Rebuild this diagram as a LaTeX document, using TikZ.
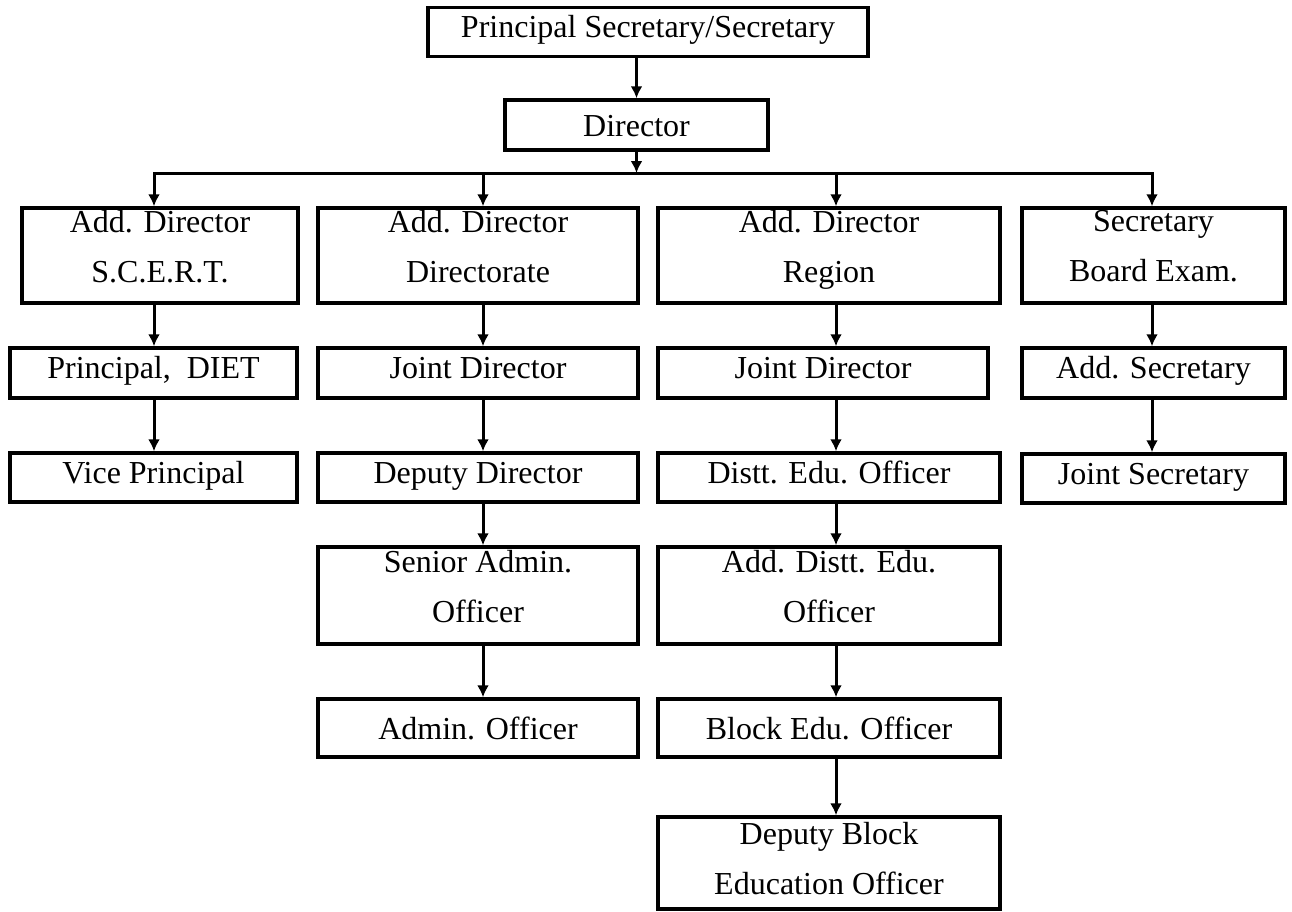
\documentclass[tikz,border=0pt]{standalone}
\usepackage{fontspec}
\setmainfont{Liberation Serif}
\usetikzlibrary{arrows.meta}
\newcommand{\lstrut}{\rule[-19pt]{0pt}{49pt}}
\newcommand{\cstrut}{\rule[-9pt]{0pt}{40pt}}
\begin{document}
\begin{tikzpicture}[x=1pt,y=-1pt,
        frame/.style={draw,line width=3.5pt,inner sep=0pt,align=center,
            font=\fontsize{32}{50}\selectfont},
        box/.style={frame,execute at begin node={\lstrut},execute at end node={\lstrut}},
        midbox/.style={frame,execute at begin node={\cstrut},execute at end node={\cstrut}},
        tip/.style={line width=3pt},
        arr/.style={tip,-{Latex[length=12pt,width=12pt]}}]
    \useasboundingbox (0,0) rectangle (1292,911);
    % top of the chart
    \node [box,minimum width=440pt,minimum height=48pt] (psec) at (648,32) {Principal Secretary/Secretary};
    \node [midbox,minimum width=263pt,minimum height=50pt] (dir) at (636.5,125) {Director};
    \coordinate (bus) at (636.5,173);
    \coordinate (b1) at (154,173);
    \coordinate (b2) at (483,173);
    \coordinate (b3) at (836,173);
    \coordinate (b4) at (1152,173);
    % S.C.E.R.T.
    \node [box,minimum width=276pt,minimum height=95pt] (scert) at (160,255.5) {Add. Director\\S.C.E.R.T.};
    \node [box,minimum width=287pt,minimum height=50pt] (diet) at (153.5,373) {Principal,\ \ DIET};
    \node [box,minimum width=287pt,minimum height=49pt] (vprin) at (153.5,477.5) {Vice Principal};
    % Directorate
    \node [box,minimum width=320pt,minimum height=95pt] (dte) at (478,255.5) {Add. Director\\Directorate};
    \node [box,minimum width=320pt,minimum height=50pt] (jdir) at (478,373) {Joint Director};
    \node [box,minimum width=320pt,minimum height=49pt] (ddir) at (478,477.5) {Deputy Director};
    \node [box,minimum width=320pt,minimum height=97pt] (sao) at (478,595.5) {Senior Admin.\\Officer};
    \node [midbox,minimum width=320pt,minimum height=58pt] (ao) at (478,728) {Admin. Officer};
    % Region
    \node [box,minimum width=342pt,minimum height=95pt] (reg) at (829,255.5) {Add. Director\\Region};
    \node [box,minimum width=330pt,minimum height=50pt] (jdreg) at (823,373) {Joint Director};
    \node [box,minimum width=342pt,minimum height=49pt] (deo) at (829,477.5) {Distt. Edu. Officer};
    \node [box,minimum width=342pt,minimum height=97pt] (adeo) at (829,595.5) {Add. Distt. Edu.\\Officer};
    \node [midbox,minimum width=342pt,minimum height=58pt] (beo) at (829,728) {Block Edu. Officer};
    \node [midbox,minimum width=342pt,minimum height=92pt] (dbeo) at (829,863) {Deputy Block\\Education Officer};
    % Board Exam.
    \node [box,minimum width=263pt,minimum height=95pt] (board) at (1153.5,255.5) {Secretary\\Board Exam.};
    \node [box,minimum width=263pt,minimum height=50pt] (asec) at (1153.5,373) {Add. Secretary};
    \node [box,minimum width=263pt,minimum height=49pt] (jsec) at (1153.5,478.5) {Joint Secretary};
    % connectors
    \draw [arr] (dir.north |- psec.south) -- (dir.north);
    \draw [arr] (dir.south) -- (bus);
    \draw [tip,{Latex[length=12pt,width=12pt]}-{Latex[length=12pt,width=12pt]}]
        (scert.north -| b1) -- (b1) -- (b4) -- (board.north -| b4);
    \draw [arr] (b2) -- (dte.north -| b2);
    \draw [arr] (b3) -- (reg.north -| b3);
    \draw [arr] (scert.south -| b1) -- (diet.north -| b1);
    \draw [arr] (diet.south -| b1) -- (vprin.north -| b1);
    \draw [arr] (dte.south -| b2) -- (jdir.north -| b2);
    \draw [arr] (jdir.south -| b2) -- (ddir.north -| b2);
    \draw [arr] (ddir.south -| b2) -- (sao.north -| b2);
    \draw [arr] (sao.south -| b2) -- (ao.north -| b2);
    \draw [arr] (reg.south -| b3) -- (jdreg.north -| b3);
    \draw [arr] (jdreg.south -| b3) -- (deo.north -| b3);
    \draw [arr] (deo.south -| b3) -- (adeo.north -| b3);
    \draw [arr] (adeo.south -| b3) -- (beo.north -| b3);
    \draw [arr] (beo.south -| b3) -- (dbeo.north -| b3);
    \draw [arr] (board.south -| b4) -- (asec.north -| b4);
    \draw [arr] (asec.south -| b4) -- (jsec.north -| b4);
\end{tikzpicture}
\end{document}
